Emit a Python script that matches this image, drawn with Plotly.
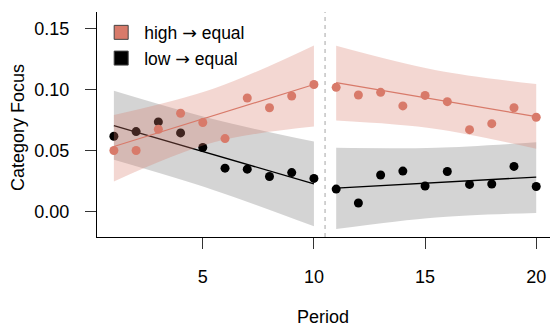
import plotly.graph_objects as go

# ---- data ----
period_a = [1, 2, 3, 4, 5, 6, 7, 8, 9, 10]
period_b = [11, 12, 13, 14, 15, 16, 17, 18, 19, 20]

high_a = [0.050, 0.050, 0.0674, 0.0805, 0.0729, 0.0598, 0.093, 0.085, 0.0946, 0.104]
high_b = [0.1017, 0.0954, 0.0976, 0.0865, 0.0951, 0.090, 0.0671, 0.072, 0.085, 0.0772]
low_a = [0.0617, 0.0655, 0.0734, 0.0644, 0.0525, 0.0356, 0.0348, 0.0288, 0.032, 0.0272]
low_b = [0.0185, 0.0071, 0.030, 0.0332, 0.021, 0.0329, 0.0223, 0.0226, 0.037, 0.0206]

fit_x_a = [1, 10]
fit_x_b = [11, 20]
high_fit_a = [0.0533, 0.104]
high_fit_b = [0.1055, 0.0778]
low_fit_a = [0.0704, 0.0228]
low_fit_b = [0.0193, 0.0283]

band_x_a = [1, 5.5, 10]
band_x_b = [11, 15.5, 20]
high_lo_a = [0.0247, 0.0567, 0.0696]
high_hi_a = [0.079, 0.1007, 0.136]
high_lo_b = [0.0745, 0.0677, 0.0514]
high_hi_b = [0.1357, 0.1157, 0.1044]
low_lo_a = [0.0424, 0.0176, -0.012]
low_hi_a = [0.099, 0.0756, 0.0573]
low_lo_b = [-0.0141, -0.0047, -0.001]
low_hi_b = [0.0522, 0.0523, 0.0568]

ARROW = '<span style="font-family:DejaVu Sans">\u2192</span>'
series_names = ["high " + ARROW + " equal", "low " + ARROW + " equal"]
x_ticks = [5, 10, 15, 20]
y_ticks = [0.00, 0.05, 0.10, 0.15]
y_tick_labels = ["0.00", "0.05", "0.10", "0.15"]
x_title = "Period"
y_title = "Category Focus"

# ---- styling ----
SALMON = "rgb(216,122,106)"
SALMON_BAND = "rgba(216,122,106,0.30)"
BLACK = "rgb(0,0,0)"
GRAY_BAND = "rgba(0,0,0,0.17)"
FONT = "Liberation Sans, Arial, sans-serif"

fig = go.Figure()


def add_band(x, lo, hi, color):
    fig.add_trace(go.Scatter(x=x, y=lo, mode="lines", line=dict(width=0, shape="spline"),
                             showlegend=False, hoverinfo="skip"))
    fig.add_trace(go.Scatter(x=x, y=hi, mode="lines", line=dict(width=0, shape="spline"),
                             fill="tonexty", fillcolor=color, showlegend=False, hoverinfo="skip"))


# low series (drawn first)
add_band(band_x_a, low_lo_a, low_hi_a, GRAY_BAND)
add_band(band_x_b, low_lo_b, low_hi_b, GRAY_BAND)
for px, py in ((period_a, low_a), (period_b, low_b)):
    fig.add_trace(go.Scatter(x=px, y=py, mode="markers", marker=dict(color=BLACK, size=9),
                             showlegend=False))
for fx, fy in ((fit_x_a, low_fit_a), (fit_x_b, low_fit_b)):
    fig.add_trace(go.Scatter(x=fx, y=fy, mode="lines", line=dict(color=BLACK, width=1.4),
                             showlegend=False))

# high series
add_band(band_x_a, high_lo_a, high_hi_a, SALMON_BAND)
add_band(band_x_b, high_lo_b, high_hi_b, SALMON_BAND)
for px, py in ((period_a, high_a), (period_b, high_b)):
    fig.add_trace(go.Scatter(x=px, y=py, mode="markers", marker=dict(color=SALMON, size=9),
                             showlegend=False))
for fx, fy in ((fit_x_a, high_fit_a), (fit_x_b, high_fit_b)):
    fig.add_trace(go.Scatter(x=fx, y=fy, mode="lines", line=dict(color=SALMON, width=1.2),
                             showlegend=False))

# legend entries
for name, col in ((series_names[0], SALMON), (series_names[1], BLACK)):
    fig.add_trace(go.Scatter(x=[None], y=[None], mode="markers", name=name,
                             marker=dict(symbol="square", size=14, color=col,
                                         line=dict(color="#444", width=1))))

fig.add_vline(x=10.5, line=dict(color="#bbbbbb", width=1.3, dash="4px,4px"))

fig.add_annotation(text=x_title, xref="paper", yref="paper", x=0.499, y=-0.356,
                   xanchor="center", yanchor="middle", showarrow=False,
                   font=dict(size=18))
fig.add_annotation(text=y_title, xref="paper", yref="paper", x=-0.1744, y=0.489,
                   xanchor="center", yanchor="middle", showarrow=False, textangle=-90,
                   font=dict(size=18))

fig.update_layout(
    width=550, height=327,
    margin=dict(l=97, r=0, t=12, b=90, autoexpand=False),
    paper_bgcolor="white", plot_bgcolor="white",
    font=dict(family=FONT, size=18, color="#000"),
    showlegend=True,
    legend=dict(x=0.0026, y=0.989, xanchor="left", yanchor="top", bgcolor="rgba(0,0,0,0)",
                font=dict(size=17.5), traceorder="normal", itemwidth=36),
)
fig.update_xaxes(range=[0.24, 20.62], tickvals=x_ticks, ticks="outside", ticklen=11,
                 tickcolor="#333", showline=True, linecolor="#000", linewidth=1,
                 showgrid=False, zeroline=False, ticklabelstandoff=12, automargin=False,
                 tickfont=dict(size=18))
fig.update_yaxes(range=[-0.0207, 0.1633], tickvals=y_ticks, ticktext=y_tick_labels,
                 ticks="outside", ticklen=11, tickcolor="#333", showline=True,
                 linecolor="#000", linewidth=1, showgrid=False, zeroline=False,
                 ticklabelstandoff=12, automargin=False, tickfont=dict(size=18))

fig.write_html("out.html", config={"displayModeBar": False},
               post_script="document.body.style.margin='0';")
